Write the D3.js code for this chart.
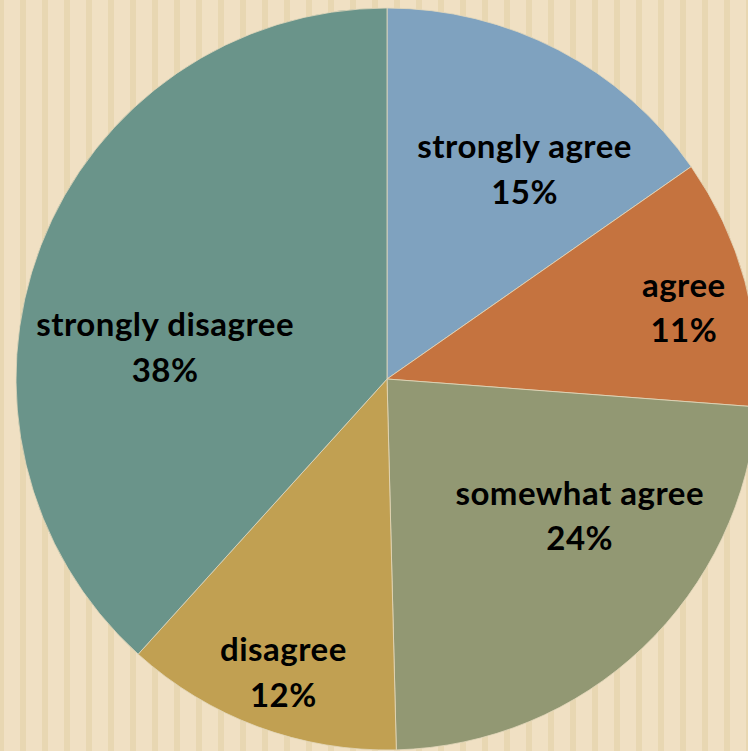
<!DOCTYPE html>
<html>
<head>
<meta charset="utf-8">
<script src="https://cdn.jsdelivr.net/npm/d3@7"></script>
<style>
  html, body { margin: 0; padding: 0; background: #F0E0C3; }
  svg { display: block; }
</style>
</head>
<body>
<svg id="chart" width="748" height="751"></svg>
<script>
// ---- data ----
const categories = ["strongly agree", "agree", "somewhat agree", "disagree", "strongly disagree"];
const values = [15.3, 10.9, 23.4, 12.1, 38.3];
const percentLabels = ["15%", "11%", "24%", "12%", "38%"];

// ---- styles / layout ----
const colors = ["#7FA2BF", "#C5733F", "#929873", "#C1A052", "#6A948A"];
const labelRadius = [250, 305, 237, 312, 224];
const labelAngleDeg = [33.4, 76.7, 125.6, 199.4, 277.9];

const W = 748, H = 751;
const cx = 387, cy = 379, R = 371;

const svg = d3.select("#chart");

// striped background
const stripeScale = d3.range(-2, W, 22);
svg.append("rect").attr("width", W).attr("height", H).attr("fill", "#F0E0C3");
svg.append("g").selectAll("rect").data(stripeScale).join("rect")
  .attr("x", d => d).attr("y", 0).attr("width", 6).attr("height", H)
  .attr("fill", "#E8D7B2");

const g = svg.append("g").attr("transform", `translate(${cx},${cy})`);

const pie = d3.pie().sort(null).value(d => d.v);
const data = categories.map((c, i) => ({ c, v: values[i], p: percentLabels[i], i }));
const arcs = pie(data);
const arc = d3.arc().innerRadius(0).outerRadius(R);

g.selectAll("path").data(arcs).join("path")
  .attr("d", arc)
  .attr("fill", d => colors[d.data.i])
  .attr("stroke", "#E4D8BC")
  .attr("stroke-width", 1)
  .attr("stroke-opacity", 0.8);

const labels = g.selectAll("g.lab").data(arcs).join("g").attr("class", "lab")
  .attr("transform", d => {
    const a = labelAngleDeg[d.data.i] * Math.PI / 180;
    const r = labelRadius[d.data.i];
    const pos = d3.arc().innerRadius(r).outerRadius(r).startAngle(a).endAngle(a).centroid();
    return `translate(${pos[0]},${pos[1]})`;
  });

const fontStyle = sel => sel
  .attr("text-anchor", "middle")
  .style("font-family", "Lato, 'Open Sans', sans-serif")
  .style("font-weight", 700)
  .style("font-size", "33px")
  .style("letter-spacing", "0.5px")
  .attr("fill", "#000");

labels.append("text").call(fontStyle)
  .attr("y", -12)
  .text(d => d.data.c);

labels.append("text").call(fontStyle)
  .attr("y", 33.5)
  .text(d => d.data.p);
</script>
</body>
</html>
